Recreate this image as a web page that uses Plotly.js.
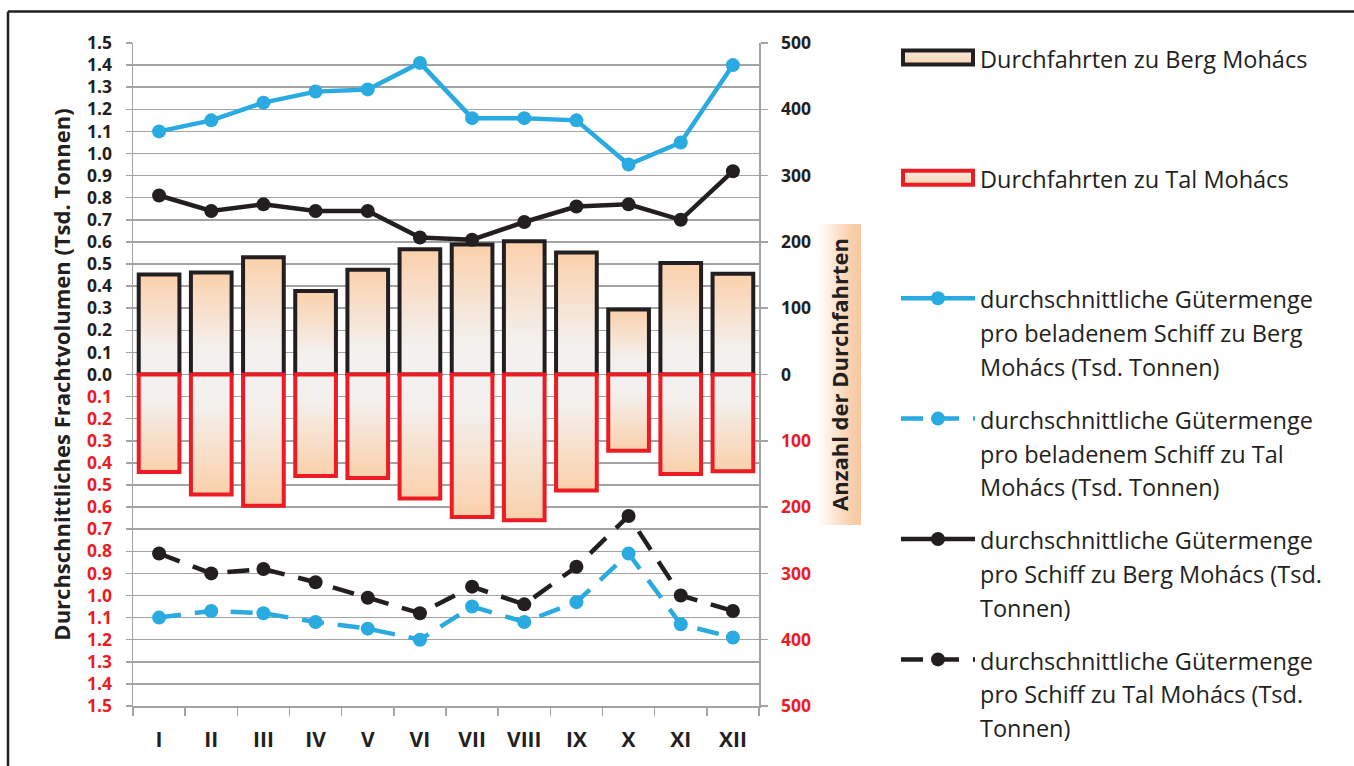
<!DOCTYPE html>
<html>
<head>
<meta charset="utf-8">
<script src="https://cdn.plot.ly/plotly-3.0.1.min.js"></script>
<style>
html,body{margin:0;padding:0;background:#fff;}
#chart{width:1354px;height:766px;}
</style>
</head>
<body>
<svg width="0" height="0" style="position:absolute">
  <defs>
    <linearGradient id="gUp" x1="0" y1="0" x2="0" y2="1">
      <stop offset="0" stop-color="#fbd0ab"/>
      <stop offset="0.72" stop-color="#f3efeb"/>
      <stop offset="1" stop-color="#f2f2f2"/>
    </linearGradient>
    <linearGradient id="gDown" x1="0" y1="0" x2="0" y2="1">
      <stop offset="0" stop-color="#f2f2f2"/>
      <stop offset="0.28" stop-color="#f3efeb"/>
      <stop offset="1" stop-color="#fbd0ab"/>
    </linearGradient>
    <linearGradient id="gLeg" x1="0" y1="0" x2="0" y2="1">
      <stop offset="0" stop-color="#f6ebe2"/>
      <stop offset="1" stop-color="#f9d2b1"/>
    </linearGradient>
  </defs>
</svg>
<div id="chart"></div>
<script>
// ---- data ----
const months = ['I','II','III','IV','V','VI','VII','VIII','IX','X','XI','XII'];
// number of passages (right axis)
const bergTransits = [151,154,177,126,158,189,196,201,184,98,168,152];
const talTransits  = [147,181,198,153,156,187,215,220,175,115,150,146];
// average cargo per loaded ship (Tsd. Tonnen, left axis)
const bergLoaded = [1.10,1.15,1.23,1.28,1.29,1.41,1.16,1.16,1.15,0.95,1.05,1.40];
const talLoaded  = [1.10,1.07,1.08,1.12,1.15,1.20,1.05,1.12,1.03,0.81,1.13,1.19];
// average cargo per ship (Tsd. Tonnen, left axis)
const bergAll = [0.81,0.74,0.77,0.74,0.74,0.62,0.61,0.69,0.76,0.77,0.70,0.92];
const talAll  = [0.81,0.90,0.88,0.94,1.01,1.08,0.96,1.04,0.87,0.64,1.00,1.07];

// ---- tick labels ----
const leftTickVals = [-1.5,-1.4,-1.3,-1.2,-1.1,-1.0,-0.9,-0.8,-0.7,-0.6,-0.5,-0.4,-0.3,-0.2,-0.1,0,
  0.1,0.2,0.3,0.4,0.5,0.6,0.7,0.8,0.9,1.0,1.1,1.2,1.3,1.4,1.5];
const leftTickLabels = ['1.5','1.4','1.3','1.2','1.1','1.0','0.9','0.8','0.7','0.6','0.5','0.4','0.3','0.2','0.1','0.0',
  '0.1','0.2','0.3','0.4','0.5','0.6','0.7','0.8','0.9','1.0','1.1','1.2','1.3','1.4','1.5'];
const rightTickVals = [-500,-400,-300,-200,-100,0,100,200,300,400,500];
const rightTickLabels = ['500','400','300','200','100','0','100','200','300','400','500'];

const RED = '#ed1c24', BLACK = '#231f20', BLUE = '#29abe2', GRID = '#a3a3a3';
const colorTick = (vals, labels) => labels.map((t, i) => vals[i] < 0 ? '<span style="color:' + RED + '">' + t + '</span>' : t);

const legendName = lines => lines.map(l => '<span style="font-size:23.5px">' + l + '</span>').join('<br>');

const neg = a => a.map(v => -v);

const data = [
  {type:'bar', x:months, y:bergTransits, yaxis:'y', width:0.78,
   name:legendName(['Durchfahrten zu Berg Mohács','&nbsp;','&nbsp;']), legendgroup:'g1',
   marker:{color:'#f6e4d6', line:{color:BLACK, width:4}}},
  {type:'bar', x:months, y:neg(talTransits), yaxis:'y', width:0.78,
   name:legendName(['Durchfahrten zu Tal Mohács','&nbsp;','&nbsp;']), legendgroup:'g2',
   marker:{color:'#f6e4d6', line:{color:RED, width:4}}},
  {type:'scatter', mode:'lines+markers', x:months, y:bergLoaded, yaxis:'y2', legendgroup:'g3',
   name:legendName(['durchschnittliche Gütermenge','pro beladenem Schiff zu Berg','Mohács (Tsd. Tonnen)']),
   line:{color:BLUE, width:4.5}, marker:{color:BLUE, size:14}},
  {type:'scatter', mode:'lines+markers', x:months, y:neg(talLoaded), yaxis:'y2', legendgroup:'g4',
   name:legendName(['durchschnittliche Gütermenge','pro beladenem Schiff zu Tal','Mohács (Tsd. Tonnen)']),
   line:{color:BLUE, width:4.5, dash:'22px,14px'}, marker:{color:BLUE, size:14}},
  {type:'scatter', mode:'lines+markers', x:months, y:bergAll, yaxis:'y2', legendgroup:'g5',
   name:legendName(['durchschnittliche Gütermenge','pro Schiff zu Berg Mohács (Tsd.','Tonnen)']),
   line:{color:BLACK, width:4.5}, marker:{color:BLACK, size:14}},
  {type:'scatter', mode:'lines+markers', x:months, y:neg(talAll), yaxis:'y2', legendgroup:'g6',
   name:legendName(['durchschnittliche Gütermenge','pro Schiff zu Tal Mohács (Tsd.','Tonnen)']),
   line:{color:BLACK, width:4.5, dash:'22px,14px'}, marker:{color:BLACK, size:14}}
];

const W = 1354, H = 766, ML = 133, MR = 595, MT = 43, MB = 60;
const PW = W - ML - MR, PH = H - MT - MB;
const px = x => (x - ML) / PW;
const py = y => (H - MB - y) / PH;

const boxSvg = "<svg xmlns='http://www.w3.org/2000/svg' width='43' height='301'><defs><linearGradient id='a' x1='0' y1='0' x2='1' y2='0'><stop offset='0' stop-color='#ffffff'/><stop offset='0.75' stop-color='#f9d0ad'/><stop offset='1' stop-color='#f8c8a0'/></linearGradient></defs><rect width='43' height='301' fill='url(#a)'/></svg>";

const tickFont = {family:'Open Sans, sans-serif', size:17.5, weight:'bold', color:BLACK};
const titleFont = {family:'Open Sans, sans-serif', size:22, weight:'bold', color:BLACK};

const layout = {
  width:W, height:H,
  margin:{l:ML, r:MR, t:MT, b:MB, autoexpand:false},
  paper_bgcolor:'#ffffff', plot_bgcolor:'#ffffff',
  barmode:'overlay',
  showlegend:true,
  xaxis:{type:'category', range:[-0.5,11.5], tickson:'boundaries', ticks:'outside', ticklen:8,
         tickwidth:1.5, tickcolor:GRID, showline:true, linecolor:GRID, linewidth:1.5,
         showgrid:false, zeroline:false, tickfont:{family:'Open Sans, sans-serif', size:21, weight:'bold', color:BLACK},
         ticklabelstandoff:14},
  yaxis:{side:'right', range:[-500,500], tickmode:'array', tickvals:rightTickVals,
         ticktext:colorTick(rightTickVals, rightTickLabels), ticks:'outside', ticklen:7, tickwidth:1.5,
         tickcolor:GRID, showline:true, linecolor:GRID, linewidth:1.5, showgrid:false, zeroline:false,
         tickfont:tickFont, ticklabelstandoff:10,
         title:{text:'Anzahl der Durchfahrten', font:titleFont, standoff:22}},
  yaxis2:{side:'left', overlaying:'y', range:[-1.5,1.5], tickmode:'array', tickvals:leftTickVals,
          ticktext:colorTick(leftTickVals, leftTickLabels), ticks:'outside', ticklen:6, tickwidth:1.5,
          tickcolor:GRID, showline:true, linecolor:GRID, linewidth:1.5, showgrid:true, gridcolor:GRID,
          gridwidth:1.5, zeroline:false, tickfont:tickFont, ticklabelstandoff:10,
          title:{text:'Durchschnittliches Frachtvolumen (Tsd. Tonnen)', font:titleFont, standoff:10}},
  legend:{x:px(896), y:py(34), xanchor:'left', yanchor:'top', valign:'top',
          font:{family:'Open Sans, sans-serif', size:26, color:BLACK},
          itemwidth:74, traceorder:'grouped', tracegroupgap:16, bgcolor:'rgba(0,0,0,0)',
          borderwidth:0, maxheight:740},
  images:[{source:'data:image/svg+xml;charset=utf-8,' + encodeURIComponent(boxSvg),
           xref:'paper', yref:'paper', x:px(818), y:py(224), sizex:43/PW, sizey:301/PH,
           xanchor:'left', yanchor:'top', sizing:'stretch', layer:'below'}],
  shapes:[
    {type:'line', xref:'paper', yref:'paper', x0:px(8), x1:px(1354), y0:py(11.5), y1:py(11.5),
     line:{color:BLACK, width:2.5}},
    {type:'line', xref:'paper', yref:'paper', x0:px(8), x1:px(8), y0:py(11.5), y1:py(766),
     line:{color:BLACK, width:2.5}}
  ],
  hovermode:false
};

Plotly.newPlot('chart', data, layout, {staticPlot:true, displayModeBar:false}).then(gd => {
  const barTraces = gd.querySelectorAll('.barlayer .trace');
  barTraces.forEach((t, i) => {
    t.querySelectorAll('path').forEach(p => { p.style.fill = i === 0 ? 'url(#gUp)' : 'url(#gDown)'; });
  });
  const legendItems = gd.querySelectorAll('.legend .traces');
  [0,1].forEach(i => {
    if (!legendItems[i]) return;
    const p = legendItems[i].querySelector('.legendpoints path');
    if (p) {
      p.setAttribute('d', 'M-35,7H35V-7H-35Z');
      p.style.fill = 'url(#gLeg)';
      p.style.strokeWidth = '4px';
    }
  });
});
</script>
</body>
</html>
